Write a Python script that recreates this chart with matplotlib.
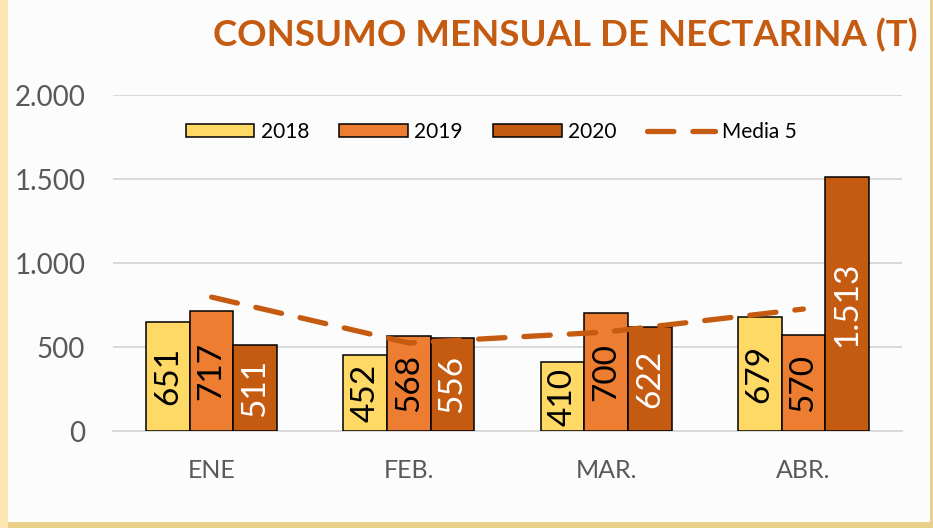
import matplotlib
matplotlib.use("Agg")
import matplotlib.pyplot as plt
from matplotlib.patches import Rectangle
from matplotlib.ticker import FuncFormatter, FixedLocator
import numpy as np

categories = ["ENE", "FEB.", "MAR.", "ABR."]
series_names = ["2018", "2019", "2020"]
v2018 = [651, 452, 410, 679]
v2019 = [717, 568, 700, 570]
v2020 = [511, 556, 622, 1513]
media5 = [797, 524, 589, 726]
yticks = [0, 500, 1000, 1500, 2000]

colors = ["#FFD966", "#ED7D31", "#C55A11"]
label_colors = ["black", "black", "white"]
line_color = "#C55A11"
FONT = ["Lato", "DejaVu Sans"]
plt.rcParams["font.family"] = FONT

W, H = 933, 528
fig = plt.figure(figsize=(W / 100, H / 100), dpi=100)
fig.patch.set_facecolor("#E8CF8A")
fig.add_artist(Rectangle((0, 0), 8 / W, 1, transform=fig.transFigure,
                         facecolor="#FCE6B2", edgecolor="none", zorder=-10))
fig.add_artist(Rectangle((8 / W, 6 / H), (930 - 8) / W, 1 - 6 / H,
                         transform=fig.transFigure, facecolor="#FCFCFC",
                         edgecolor="none", zorder=-9))

ax = fig.add_axes([113 / W, (H - 431) / H, 789 / W, 336 / H])
ax.set_facecolor("none")

x = np.arange(len(categories))
bw = 0.2215
allvals = [v2018, v2019, v2020]
handles = []
for i, (vals, name) in enumerate(zip(allvals, series_names)):
    pos = x + (i - 1) * bw
    bars = ax.bar(pos, vals, width=bw, color=colors[i], edgecolor="black",
                  linewidth=1.1, label=name, zorder=3)
    handles.append(bars)
    for b, v in zip(bars, vals):
        txt = f"{v:,}".replace(",", ".")
        ax.text(b.get_x() + b.get_width() / 2, v / 2, txt, rotation=90,
                ha="center", va="center", fontsize=24, color=label_colors[i],
                zorder=5)

line, = ax.plot(x, media5, color=line_color, linewidth=3.8,
                linestyle=(0, (5, 3.6)), dash_capstyle="round",
                label="Media 5", zorder=4)
handles.append(line)

ax.set_xlim(-0.5, len(categories) - 0.5)
ax.set_ylim(0, 2000)
ax.yaxis.set_major_locator(FixedLocator(yticks))
ax.yaxis.set_major_formatter(FuncFormatter(lambda v, p: f"{int(v):,}".replace(",", ".")))
ax.set_xticks(x)
ax.set_xticklabels(categories)
ax.grid(axis="y", color="#D9D9D9", linewidth=1.4, zorder=0)
ax.set_axisbelow(True)
for s in ["top", "right", "left"]:
    ax.spines[s].set_visible(False)
ax.spines["bottom"].set_color("#D9D9D9")
ax.spines["bottom"].set_linewidth(1.4)
ax.tick_params(axis="both", length=0, colors="#595959")
ax.tick_params(axis="y", labelsize=20, pad=20)
ax.tick_params(axis="x", labelsize=18, pad=20)

leg = ax.legend(handles=handles, labels=series_names + ["Media 5"],
                loc="center", bbox_to_anchor=(0.479, 0.89), ncol=4,
                frameon=False, fontsize=15, handlelength=3.3,
                handleheight=0.6, handletextpad=0.3, columnspacing=1.45)
for t in leg.get_texts():
    t.set_color("black")

fig.text(918 / W, 1 - 35 / H, "CONSUMO MENSUAL DE NECTARINA (T)",
         ha="right", va="center", fontsize=26.4, fontweight="bold",
         color="#C55A11")

fig.savefig("out.png", dpi=100, facecolor=fig.get_facecolor())
